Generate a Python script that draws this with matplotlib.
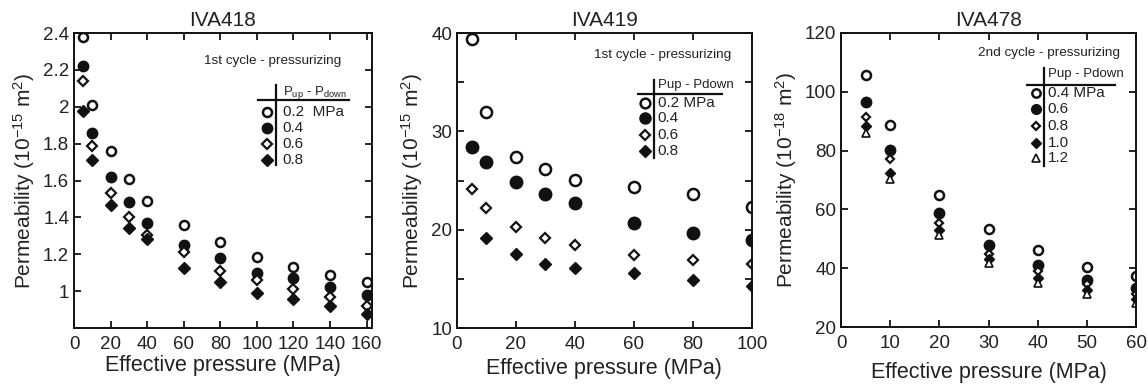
import matplotlib
matplotlib.use("Agg")
import matplotlib.pyplot as plt
from matplotlib.ticker import MultipleLocator

plt.rcParams['font.family'] = ['Liberation Sans', 'DejaVu Sans']
plt.rcParams['mathtext.fontset'] = 'custom'
plt.rcParams['mathtext.rm'] = 'Liberation Sans'
plt.rcParams['mathtext.it'] = 'Liberation Sans'

# IVA418, 1st cycle - pressurizing (10^-15 m2)
p418 = [5, 10, 20, 30, 40, 60, 80, 100, 120, 140, 160]
k418_02 = [2.378, 2.01, 1.76, 1.61, 1.49, 1.357, 1.264, 1.187, 1.13, 1.09, 1.047]
k418_04 = [2.22, 1.86, 1.62, 1.485, 1.37, 1.248, 1.18, 1.10, 1.07, 1.022, 0.977]
k418_06 = [2.14, 1.79, 1.53, 1.405, 1.305, 1.21, 1.112, 1.062, 1.01, 0.966, 0.92]
k418_08 = [1.98, 1.71, 1.465, 1.34, 1.285, 1.127, 1.05, 0.99, 0.96, 0.92, 0.875]

# IVA419, 1st cycle - pressurizing (10^-15 m2)
p419 = [5, 10, 20, 30, 40, 60, 80, 100]
k419_02 = [39.4, 31.95, 27.36, 26.2, 25.05, 24.34, 23.59, 22.3]
k419_04 = [28.45, 26.92, 24.85, 23.62, 22.67, 20.7, 19.71, 18.93]
k419_06 = [24.17, 22.16, 20.29, 19.2, 18.49, 17.47, 16.96, 16.55]
p419_08 = [10, 20, 30, 40, 60, 80, 100]
k419_08 = [19.17, 17.57, 16.55, 16.15, 15.64, 14.86, 14.24]

# IVA478, 2nd cycle - pressurizing (10^-18 m2)
p478 = [5, 10, 20, 30, 40, 50, 60]
k478_04 = [105.7, 88.6, 64.9, 53.2, 46.1, 40.45, 37.3]
k478_06 = [96.4, 80.2, 58.6, 47.8, 41.25, 36.1, 33.4]
k478_08 = [91.25, 77.0, 55.5, 44.8, 39.1, 34.5, 31.1]
k478_10 = [88.2, 72.5, 53.0, 43.0, 36.8, 32.7, 29.4]
k478_12 = [85.9, 70.3, 51.25, 41.6, 35.1, 31.1, 28.0]

labels418 = ["0.2  MPa", "0.4", "0.6", "0.8"]
labels419 = ["0.2 MPa", "0.4", "0.6", "0.8"]
labels478 = ["0.4 MPa", "0.6", "0.8", "1.0", "1.2"]

ink = "#111111"
txt = "#222222"

fig = plt.figure(figsize=(11.48, 3.88), dpi=100)
ax1 = fig.add_axes([0.0645, 0.1546, 0.2596, 0.760])
ax2 = fig.add_axes([0.398, 0.1546, 0.257, 0.760])
ax3 = fig.add_axes([0.7326, 0.1572, 0.257, 0.758])

open_c = dict(marker="o", mfc="white", mec=ink, mew=1.8, ls="none")
fill_c = dict(marker="o", mfc=ink, mec=ink, ls="none")
open_d = dict(marker="D", mfc="white", mec=ink, mew=1.6, ls="none")
fill_d = dict(marker="D", mfc=ink, mec=ink, ls="none")
open_t = dict(marker="^", mfc="white", mec=ink, mew=1.2, ls="none")


def style(ax, title, ylabel, xpad):
    ax.set_title(title, fontsize=15, pad=5, color=txt)
    ax.set_xlabel("Effective pressure (MPa)", fontsize=15.5, color=txt, labelpad=xpad)
    ax.set_ylabel(ylabel, fontsize=15, color=txt, labelpad=4)
    ax.tick_params(which="both", direction="in", top=True, right=True,
                   labelsize=13.5, labelcolor=txt)
    ax.tick_params(axis="x", which="both", pad=6)
    ax.tick_params(which="major", length=5, width=1.2)
    ax.tick_params(which="minor", length=3, width=1.0)
    for s in ax.spines.values():
        s.set_linewidth(1.4)
        s.set_color(ink)


def legend(ax, styles, labels, header, x0, x1, xv, yh, ytop, ybot, xm, xl, yhead, rows, fs=10):
    t = ax.transAxes
    ax.plot([xv, xv], [ytop, ybot], color=ink, lw=1.6, transform=t, clip_on=False)
    ax.plot([x0, x1], [yh, yh], color=ink, lw=1.6, transform=t, clip_on=False)
    ax.text(xl, yhead, header, transform=t, fontsize=fs - 1.5, va="center", ha="left", color=txt)
    for st, lab, yr in zip(styles, labels, rows):
        ax.plot([xm], [yr], transform=t, clip_on=False, **st)
        ax.text(xl, yr, lab, transform=t, fontsize=fs, va="center", ha="left", color=txt)


# IVA418
ax1.plot(p418, k418_02, ms=6.5, **open_c)
ax1.plot(p418, k418_04, ms=7.5, **fill_c)
ax1.plot(p418, k418_06, ms=5, **open_d)
ax1.plot(p418, k418_08, ms=6, **fill_d)
ax1.set_xlim(0, 163)
ax1.set_ylim(0.8, 2.4)
ax1.set_xticks([0, 20, 40, 60, 80, 100, 120, 140, 160])
ax1.set_yticks([1, 1.2, 1.4, 1.6, 1.8, 2, 2.2, 2.4])
ax1.set_yticklabels(["1", "1.2", "1.4", "1.6", "1.8", "2", "2.2", "2.4"])
style(ax1, "IVA418", "Permeability (10$^{-15}$ m$^{2}$)", 1)
ax1.text(0.895, 0.905, "1st cycle - pressurizing", transform=ax1.transAxes,
         fontsize=9.7, ha="right", va="center", color=txt)
legend(ax1,
       [dict(open_c, ms=6.5), dict(fill_c, ms=7.5), dict(open_d, ms=5), dict(fill_d, ms=6)],
       labels418, "P$_{\\mathrm{up}}$ - P$_{\\mathrm{down}}$",
       0.617, 0.923, 0.678, 0.773, 0.824, 0.553, 0.648, 0.70, 0.80,
       [0.732, 0.678, 0.624, 0.569], fs=11)

# IVA419
ax2.plot(p419, k419_02, ms=8, **open_c)
ax2.plot(p419, k419_04, ms=9, **fill_c)
ax2.plot(p419, k419_06, ms=5, **open_d)
ax2.plot(p419_08, k419_08, ms=6, **fill_d)
ax2.set_xlim(0, 100)
ax2.set_ylim(10, 40)
ax2.set_xticks([0, 20, 40, 60, 80, 100])
ax2.set_yticks([10, 20, 30, 40])
ax2.yaxis.set_minor_locator(MultipleLocator(5))
style(ax2, "IVA419", "Permeability (10$^{-15}$ m$^{2}$)", 3)
ax2.tick_params(axis="y", which="minor", length=5, width=1.2)
ax2.text(0.93, 0.925, "1st cycle - pressurizing", transform=ax2.transAxes,
         fontsize=9.7, ha="right", va="center", color=txt)
legend(ax2,
       [dict(open_c, ms=7), dict(fill_c, ms=8), dict(open_d, ms=5), dict(fill_d, ms=6)],
       labels419, "Pup - Pdown",
       0.614, 0.90, 0.668, 0.793, 0.84, 0.576, 0.637, 0.68, 0.824,
       [0.763, 0.712, 0.654, 0.60], fs=11)

# IVA478
ax3.plot(p478, k478_04, ms=6.5, **open_c)
ax3.plot(p478, k478_06, ms=7.5, **fill_c)
ax3.plot(p478, k478_08, ms=4.5, **open_d)
ax3.plot(p478, k478_10, ms=5, **fill_d)
ax3.plot(p478, k478_12, ms=5.5, **open_t)
ax3.set_xlim(0, 60)
ax3.set_ylim(20, 120)
ax3.set_xticks([0, 10, 20, 30, 40, 50, 60])
ax3.set_yticks([20, 40, 60, 80, 100, 120])
style(ax3, "IVA478", "Permeability (10$^{-18}$ m$^{2}$)", 7)
ax3.text(0.946, 0.932, "2nd cycle - pressurizing", transform=ax3.transAxes,
         fontsize=9.7, ha="right", va="center", color=txt)
legend(ax3,
       [dict(open_c, ms=6), dict(fill_c, ms=7), dict(open_d, ms=4.5), dict(fill_d, ms=5), dict(open_t, ms=5.5)],
       labels478, "Pup - Pdown",
       0.63, 0.93, 0.688, 0.824, 0.881, 0.546, 0.661, 0.70, 0.861,
       [0.797, 0.742, 0.685, 0.627, 0.573], fs=11)

fig.savefig("out.png", dpi=100)
